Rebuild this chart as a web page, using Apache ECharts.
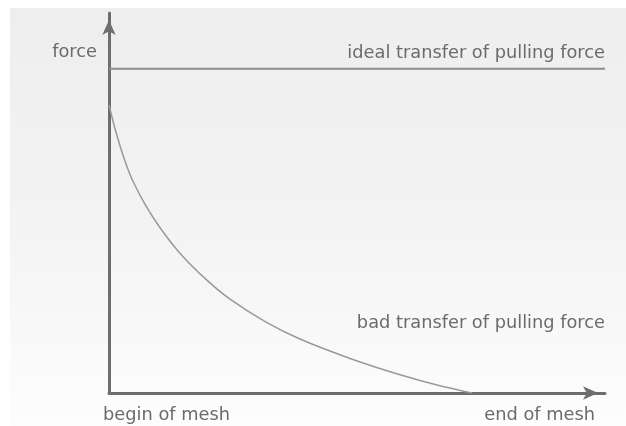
<!DOCTYPE html>
<html lang="en">
<head>
    <meta charset="UTF-8">
    <title>force transfer along the mesh</title>
    <script src="https://cdn.jsdelivr.net/npm/echarts@6/dist/echarts.min.js"></script>
    <style>
        html, body { margin: 0; padding: 0; background: #ffffff; }
        #main_1 { width: 626px; height: 426px; }
    </style>
</head>
<body>
<div id="main_1"></div>
<script>
    // position along the mesh (0 = begin, 100 = end of axis)
    var meshPos = [0, 1.2, 2.4, 3.6, 4.8, 7.3, 10.3, 14.3, 19.4, 24.4, 31.5, 38.5, 48.6, 58.7, 66.7, 73.2];
    // force
    var badForce = [75.8, 69.6, 64.3, 59.7, 55.8, 49.6, 43.5, 36.8, 30.1, 24.7, 18.8, 14.2, 9.1, 4.8, 1.9, 0];
    // ideal transfer: constant force
    var idealPos = [0, 100];
    var idealForce = [85.3, 85.3];

    var labels = {
        yName: 'force',
        ideal: 'ideal transfer of pulling force',
        bad: 'bad transfer of pulling force',
        begin: 'begin of mesh',
        end: 'end of mesh'
    };

    function pairs(xs, ys) {
        return xs.map(function (x, i) { return [x, ys[i]]; });
    }

    var font = '"DejaVu Sans", Roboto, sans-serif';
    var txtColor = '#6b6b6b';

    function txt(str, x, y, align) {
        return {
            type: 'text', x: x, y: y, z: 10,
            style: { text: str, fill: txtColor, font: '17.8px ' + font, align: align, verticalAlign: 'middle' }
        };
    }

    var axisLine = {
        show: true,
        symbol: ['none', 'arrow'],
        symbolSize: [10, 15],
        symbolOffset: [0, -7],
        lineStyle: { color: '#6e6e6e', width: 3 }
    };

    var myChart = echarts.init(document.getElementById('main_1'));

    var option = {
        animation: false,
        backgroundColor: '#ffffff',
        grid: { left: 109, right: 21, top: 13, bottom: 33 },
        xAxis: {
            type: 'value', min: 0, max: 100,
            axisLine: axisLine,
            axisTick: { show: false }, axisLabel: { show: false }, splitLine: { show: false }
        },
        yAxis: {
            type: 'value', min: 0, max: 100,
            axisLine: axisLine,
            axisTick: { show: false }, axisLabel: { show: false }, splitLine: { show: false }
        },
        graphic: [
            {
                type: 'rect', z: -10, silent: true,
                shape: { x: 10, y: 8, width: 616, height: 418 },
                style: {
                    fill: new echarts.graphic.LinearGradient(0, 0, 0, 1, [
                        { offset: 0, color: '#eeeeee' },
                        { offset: 0.5, color: '#f3f3f3' },
                        { offset: 1, color: '#fdfdfd' }
                    ])
                }
            },
            txt(labels.yName, 97, 52, 'right'),
            txt(labels.ideal, 605, 53, 'right'),
            txt(labels.bad, 605, 323, 'right'),
            txt(labels.begin, 103, 415, 'left'),
            txt(labels.end, 595, 415, 'right')
        ],
        series: [
            {
                name: 'ideal',
                type: 'line',
                data: pairs(idealPos, idealForce),
                symbol: 'none',
                lineStyle: { color: '#8c8c8c', width: 2 },
                z: 1
            },
            {
                name: 'bad',
                type: 'line',
                data: pairs(meshPos, badForce),
                smooth: 0.2,
                symbol: 'none',
                lineStyle: { color: '#999999', width: 1.5 },
                z: 1
            }
        ]
    };
    myChart.setOption(option);
</script>
</body>
</html>
